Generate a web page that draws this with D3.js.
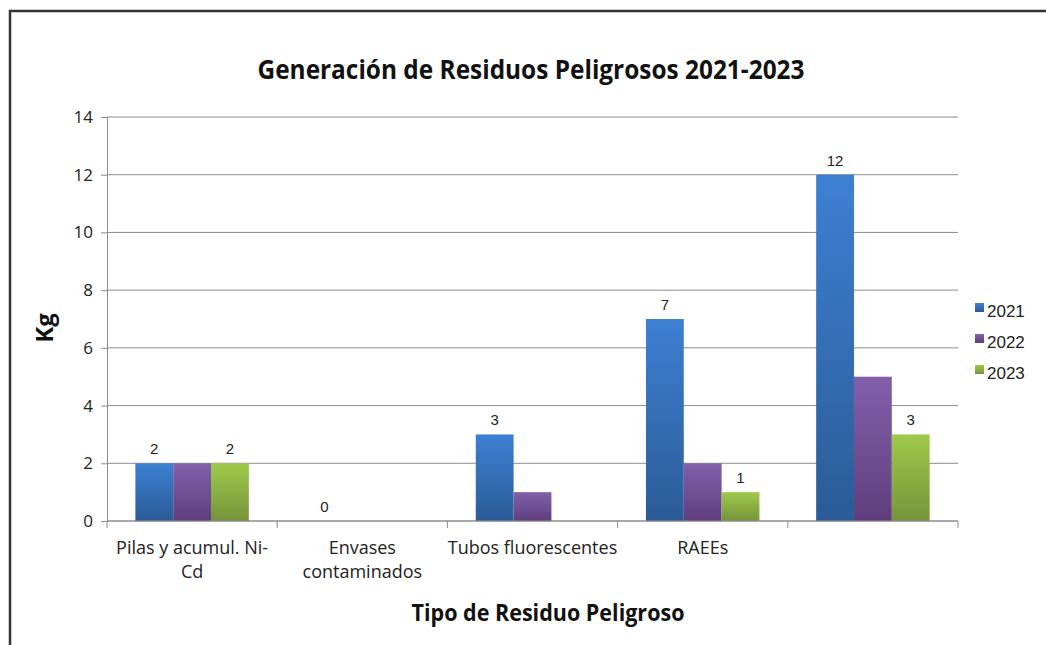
<!DOCTYPE html>
<meta charset="utf-8">
<style type="text/css">
    body { margin: 0; background: #fff; }
    .narrow { font-family: "Open Sans", sans-serif; }
    .arial { font-family: "Liberation Sans", Arial, sans-serif; }
    .grid line { stroke: #8c8c8c; stroke-width: 1; }
    .axis path, .axis line { stroke: #8c8c8c; }
</style>
<body></body>
<script src="https://cdnjs.cloudflare.com/ajax/libs/d3/7.8.5/d3.min.js"></script>
<script>

var categories = ["Pilas y acumul. Ni-Cd", "Envases contaminados", "Tubos fluorescentes", "RAEEs", ""];
var categoryLines = [["Pilas y acumul. Ni-", "Cd"], ["Envases", "contaminados"], ["Tubos fluorescentes"], ["RAEEs"], [""]];
var years = ["2021", "2022", "2023"];
var v2021 = [2, 0, 3, 7, 12];
var v2022 = [2, null, 1, 2, 5];
var v2023 = [2, null, null, 1, 3];
var yTicks = [0, 2, 4, 6, 8, 10, 12, 14];
// which series get value labels
var labelled = {"2021": true, "2022": false, "2023": true};

var W = 1046, H = 645;
var margin = {top: 117, left: 107, right: 88, bottom: 124};
var w = W - margin.left - margin.right,
    h = H - margin.top - margin.bottom;

var svg = d3.select("body").append("svg")
    .attr("width", W).attr("height", H);

// chart frame (right side is cut off in the original)
svg.append("path")
    .attr("d", "M10,650 L10,11 L1050,11")
    .attr("fill", "none").attr("stroke", "#333").attr("stroke-width", 2.5);

var defs = svg.append("defs");
var colors = {
    "2021": ["#3d80d2", "#2b5b97"],
    "2022": ["#8260ab", "#5e3e7c"],
    "2023": ["#9fca4b", "#75943a"]
};
years.forEach(function(y) {
    var g = defs.append("linearGradient").attr("id", "grad" + y)
        .attr("x1", 0).attr("y1", 0).attr("x2", 0).attr("y2", 1);
    g.append("stop").attr("offset", "0%").attr("stop-color", colors[y][0]);
    g.append("stop").attr("offset", "100%").attr("stop-color", colors[y][1]);
});

var g = svg.append("g")
    .attr("transform", "translate(" + margin.left + "," + margin.top + ")");

var x0 = d3.scaleBand().domain(categories.map(function(c, i) { return i; }))
    .range([0, w]).paddingInner(0).paddingOuter(0);
var bw = x0.bandwidth() / 4.5;
var x1 = d3.scaleBand().domain(years)
    .range([0.75 * bw, 3.75 * bw]);

var y = d3.scaleLinear().domain([0, 14]).range([h, 0]);

// gridlines
g.append("g").attr("class", "grid")
    .selectAll("line").data(yTicks).enter().append("line")
    .attr("x1", 0).attr("x2", w)
    .attr("y1", function(d) { return y(d); })
    .attr("y2", function(d) { return y(d); });

var series = {"2021": v2021, "2022": v2022, "2023": v2023};
var rows = [];
years.forEach(function(yr) {
    series[yr].forEach(function(v, i) {
        if (v !== null) rows.push({year: yr, cat: i, value: v});
    });
});

g.selectAll(".bar").data(rows).enter().append("rect")
    .attr("class", "bar")
    .attr("x", function(d) { return x0(d.cat) + x1(d.year); })
    .attr("width", x1.bandwidth())
    .attr("y", function(d) { return y(d.value); })
    .attr("height", function(d) { return h - y(d.value); })
    .attr("fill", function(d) { return "url(#grad" + d.year + ")"; });

g.selectAll(".vlabel").data(rows.filter(function(d) { return labelled[d.year]; }))
    .enter().append("text")
    .attr("class", "vlabel arial")
    .attr("x", function(d) { return x0(d.cat) + x1(d.year) + x1.bandwidth() / 2; })
    .attr("y", function(d) { return y(d.value) - 9; })
    .attr("text-anchor", "middle")
    .attr("font-size", 15).attr("fill", "#222")
    .text(function(d) { return d.value; });

// y axis
var yaxis = g.append("g").attr("class", "axis")
    .call(d3.axisLeft(y).tickValues(yTicks).tickSize(6).tickPadding(8));
yaxis.selectAll("text").attr("class", "narrow").attr("font-size", 17).attr("fill", "#222");

// x axis: ticks at the band edges
var xaxis = g.append("g").attr("class", "axis")
    .attr("transform", "translate(0," + h + ")");
xaxis.append("line").attr("x1", 0).attr("x2", w).attr("stroke", "#8c8c8c");
xaxis.selectAll(".tk").data(d3.range(categories.length + 1)).enter().append("line")
    .attr("x1", function(i) { return i * x0.step(); })
    .attr("x2", function(i) { return i * x0.step(); })
    .attr("y1", 0).attr("y2", 7).attr("stroke", "#8c8c8c");

xaxis.selectAll(".clabel").data(categoryLines).enter().append("text")
    .attr("class", "clabel narrow")
    .attr("text-anchor", "middle")
    .attr("font-size", 18).attr("fill", "#222")
    .attr("transform", function(d, i) { return "translate(" + (x0(i) + x0.bandwidth() / 2) + ",33)"; })
    .selectAll("tspan").data(function(d) { return d; }).enter().append("tspan")
    .attr("x", 0).attr("dy", function(d, j) { return j ? 24 : 0; })
    .text(function(d) { return d; });

// titles
svg.append("text").attr("class", "narrow")
    .attr("x", 531).attr("y", 79).attr("text-anchor", "middle")
    .attr("font-size", 27).attr("font-weight", "bold").attr("fill", "#111")
    .attr("textLength", 547).attr("lengthAdjust", "spacingAndGlyphs")
    .text("Generación de Residuos Peligrosos 2021-2023");

svg.append("text").attr("class", "narrow")
    .attr("x", 548).attr("y", 621).attr("text-anchor", "middle")
    .attr("font-size", 23).attr("font-weight", "bold").attr("fill", "#111")
    .attr("textLength", 273).attr("lengthAdjust", "spacingAndGlyphs")
    .text("Tipo de Residuo Peligroso");

svg.append("text").attr("class", "narrow")
    .attr("transform", "translate(53,328) rotate(-90)")
    .attr("text-anchor", "middle")
    .attr("font-size", 24).attr("font-weight", "bold").attr("fill", "#111")
    .text("Kg");

// legend
var legend = svg.append("g").attr("transform", "translate(975,312)");
var li = legend.selectAll("g").data(years).enter().append("g")
    .attr("transform", function(d, i) { return "translate(0," + (i * 31) + ")"; });
li.append("rect").attr("x", 0).attr("y", -9).attr("width", 9).attr("height", 9)
    .attr("fill", function(d) { return "url(#grad" + d + ")"; });
li.append("text").attr("class", "arial").attr("x", 12).attr("y", 5)
    .attr("font-size", 17).attr("fill", "#222")
    .text(function(d) { return d; });

</script>
